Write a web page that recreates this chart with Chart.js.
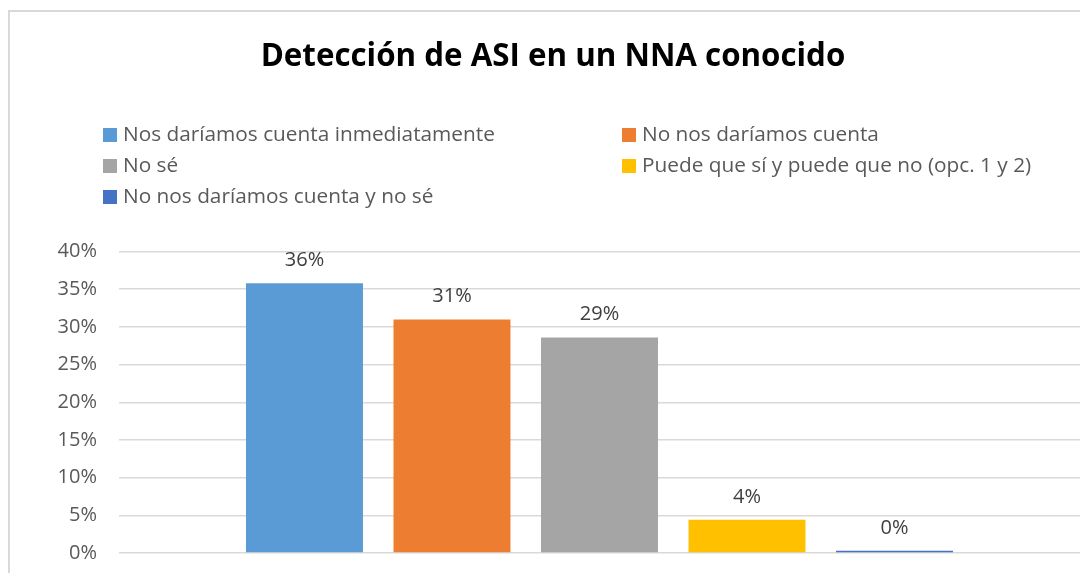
<!DOCTYPE html>
<html lang="es">
<head>
<meta charset="utf-8">
<title>Detección de ASI en un NNA conocido</title>
<script src="https://cdn.jsdelivr.net/npm/chart.js@4/dist/chart.umd.min.js"></script>
<style>
    html, body {
        margin: 0;
        padding: 0;
        width: 1080px;
        height: 573px;
        overflow: hidden;
        background: #fff;
        font-family: "Open Sans", sans-serif;
    }
    #marco {
        position: absolute;
        left: 8px;
        top: 10px;
        width: 1100px;
        height: 620px;
        border: 2px solid #d9d9d9;
        box-sizing: border-box;
    }
    #contenedor {
        position: absolute;
        left: 0;
        top: 0;
        width: 1106px;
        height: 587px;
    }
    .leyenda-item {
        position: absolute;
        height: 30px;
        line-height: 30px;
        font-size: 20.8px;
        color: #595959;
        white-space: nowrap;
    }
    .leyenda-caja {
        display: inline-block;
        width: 14px;
        height: 14px;
        margin-right: 6px;
        vertical-align: -1px;
    }
</style>
</head>
<body>
<div id="marco"></div>
<div id="contenedor">
    <canvas id="grafico"></canvas>
</div>
<div id="leyenda"></div>

<script>
const titulo = 'Detección de ASI en un NNA conocido';
const respuestas = [
    'Nos daríamos cuenta inmediatamente',
    'No nos daríamos cuenta',
    'No sé',
    'Puede que sí y puede que no (opc. 1 y 2)',
    'No nos daríamos cuenta y no sé'
];
const porcentajes = [35.8, 31.0, 28.6, 4.4, 0.3];
const ticksY = [0, 5, 10, 15, 20, 25, 30, 35, 40];

const colores = ['#5B9BD5', '#ED7D31', '#A5A5A5', '#FFC000', '#4472C4'];

// etiquetas encima de cada barra
const etiquetasBarras = {
    id: 'etiquetasBarras',
    afterDatasetsDraw(chart) {
        const ctx = chart.ctx;
        ctx.save();
        ctx.font = '20px "Open Sans"';
        ctx.fillStyle = '#404040';
        ctx.textAlign = 'center';
        ctx.textBaseline = 'alphabetic';
        chart.data.datasets.forEach((ds, i) => {
            const barra = chart.getDatasetMeta(i).data[0];
            ctx.fillText(Math.round(ds.data[0]) + '%', barra.x, barra.y - 17);
        });
        ctx.restore();
    }
};

function crearLeyenda() {
    const cont = document.getElementById('leyenda');
    const columnas = [103, 622];
    const filas = [118, 149, 180];
    respuestas.forEach((texto, i) => {
        const item = document.createElement('div');
        item.className = 'leyenda-item';
        item.style.left = columnas[i % 2] + 'px';
        item.style.top = filas[Math.floor(i / 2)] + 'px';
        item.innerHTML = '<span class="leyenda-caja" style="background:' + colores[i] + '"></span>' + texto;
        cont.appendChild(item);
    });
}

const ctx = document.getElementById('grafico').getContext('2d');

new Chart(ctx, {
    type: 'bar',
    data: {
        labels: [''],
        datasets: respuestas.map((r, i) => ({
            label: r,
            data: [porcentajes[i]],
            backgroundColor: colores[i],
            categoryPercentage: 0.7675,
            barPercentage: 0.793
        }))
    },
    options: {
        responsive: true,
        maintainAspectRatio: false,
        animation: false,
        layout: {
            padding: { left: 26, right: 26, top: 0, bottom: 7 }
        },
        plugins: {
            legend: { display: false },
            tooltip: { enabled: false },
            title: {
                display: true,
                text: titulo,
                color: '#000',
                font: { family: '"Open Sans"', size: 31.3, weight: 'bold', lineHeight: 1.2 },
                padding: { top: 38, bottom: 176 }
            }
        },
        scales: {
            x: {
                display: false
            },
            y: {
                min: ticksY[0],
                max: ticksY[ticksY.length - 1],
                afterBuildTicks(scale) {
                    scale.ticks = ticksY.map(v => ({ value: v }));
                },
                afterFit(scale) {
                    scale.width = 93;
                },
                border: { display: false },
                grid: {
                    color: '#d9d9d9',
                    lineWidth: 1.5,
                    drawTicks: false
                },
                ticks: {
                    padding: 22,
                    color: '#595959',
                    font: { family: '"Open Sans"', size: 20 },
                    callback: v => v + '%'
                }
            }
        }
    },
    plugins: [etiquetasBarras]
});

crearLeyenda();
</script>
</body>
</html>
